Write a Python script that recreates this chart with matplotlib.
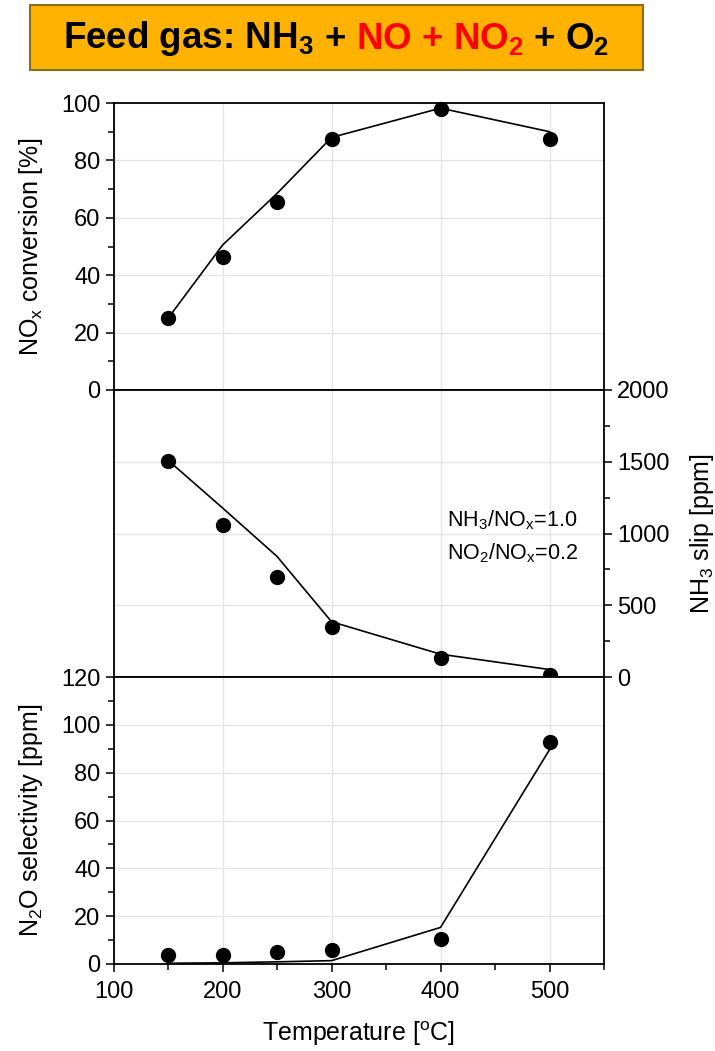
import matplotlib
matplotlib.use("Agg")
import matplotlib.pyplot as plt
from matplotlib.patches import Rectangle
from matplotlib.ticker import MultipleLocator

plt.rcParams['font.family'] = ['Liberation Sans', 'DejaVu Sans']
plt.rcParams['mathtext.fontset'] = 'custom'
plt.rcParams['mathtext.rm'] = 'Liberation Sans'
plt.rcParams['mathtext.bf'] = 'Liberation Sans:bold'
plt.rcParams['mathtext.it'] = 'Liberation Sans:italic'

# measured points
temps = [150, 200, 250, 300, 400, 500]
nox_conv = [25, 46.5, 65.5, 87.5, 98, 87.5]
nh3_slip = [1505, 1057, 700, 350, 130, 12]
n2o_sel = [3.8, 3.6, 5.2, 5.9, 10.3, 93]

# model lines
model_temps = [150, 200, 250, 300, 400, 500]
nox_conv_model = [25, 50.5, 68.5, 88, 98.2, 90]
nh3_slip_model = [1510, 1178, 840, 385, 159, 52]
n2o_sel_model = [0.3, 0.5, 0.9, 1.4, 15.3, 89.6]

W, H = 715, 1051
fig = plt.figure(figsize=(W / 100, H / 100), dpi=100)

left, width = 113.6 / W, (604 - 113.6) / W
tops = [103, 390, 677]
ph = 287
axes = []
for t in tops:
    ax = fig.add_axes([left, 1 - (t + ph) / H, width, ph / H])
    axes.append(ax)
ax1, ax2, ax3 = axes

GRID = '#e3e3e3'
for ax, y, ym in [(ax1, nox_conv, nox_conv_model),
                  (ax2, nh3_slip, nh3_slip_model),
                  (ax3, n2o_sel, n2o_sel_model)]:
    ax.plot(model_temps, ym, color='black', lw=1.2, zorder=3)
    ax.plot(temps, y, 'o', color='black', ms=10, zorder=4, clip_on=False)
    ax.set_xlim(100, 550)
    ax.xaxis.set_major_locator(MultipleLocator(100))
    ax.xaxis.set_minor_locator(MultipleLocator(50))
    ax.grid(True, which='major', color=GRID, lw=0.9, zorder=0)
    for s in ax.spines.values():
        s.set_linewidth(1.3)
    ax.tick_params(which='both', direction='out', width=1.1, labelsize=17)
    ax.tick_params(which='major', length=6)
    ax.tick_params(which='minor', length=4)

# panel 1
ax1.set_ylim(0, 100)
ax1.yaxis.set_major_locator(MultipleLocator(20))
ax1.yaxis.set_minor_locator(MultipleLocator(10))
ax1.tick_params(axis='x', which='both', labelbottom=False)
ax1.tick_params(axis='x', which='minor', length=0)
ax1.set_ylabel(r'NO$_\mathregular{x}$ conversion [%]', fontsize=18)

# panel 2
ax2.set_ylim(0, 2000)
ax2.yaxis.set_major_locator(MultipleLocator(500))
ax2.yaxis.set_minor_locator(MultipleLocator(250))
ax2.yaxis.tick_right()
ax2.yaxis.set_label_position('right')
ax2.tick_params(axis='x', which='both', length=0, labelbottom=False)
ax2.set_ylabel(r'NH$_\mathregular{3}$ slip [ppm]', fontsize=18)
ax2.yaxis.set_label_coords(1.171, 0.5)
ax2.text(0.68, 0.547, r'NH$_\mathregular{3}$/NO$_\mathregular{x}$=1.0',
         transform=ax2.transAxes, fontsize=15.5, va='center')
ax2.text(0.68, 0.432, r'NO$_\mathregular{2}$/NO$_\mathregular{x}$=0.2',
         transform=ax2.transAxes, fontsize=15.5, va='center')

# panel 3
ax3.set_ylim(0, 120)
ax3.yaxis.set_major_locator(MultipleLocator(20))
ax3.yaxis.set_minor_locator(MultipleLocator(10))
ax3.tick_params(axis='x', which='major', pad=6)
ax3.set_ylabel(r'N$_\mathregular{2}$O selectivity [ppm]', fontsize=18)
ax3.set_xlabel(r'Temperature [$^\mathregular{o}$C]', fontsize=18, labelpad=12)

for ax in (ax1, ax3):
    ax.yaxis.set_label_coords(-0.14, 0.5)

# title box
fig.patches.append(Rectangle((30 / W, 1 - 70 / H), 613 / W, 65 / H,
                             transform=fig.transFigure, facecolor='#FFB300',
                             edgecolor='#8a6d1a', lw=1.5, zorder=0))
pieces = [(r'Feed gas: NH$_\mathbf{3}$', 'black'),
          ('+', 'black'),
          (r'NO + NO$_\mathbf{2}$', '#FF0000'),
          ('+', 'black'),
          (r'O$_\mathbf{2}$', 'black')]
renderer = fig.canvas.get_renderer()
tkw = dict(fontsize=26.5, fontweight='bold', va='center', ha='left')
probe1 = fig.text(0, 0, 'a a', **tkw)
probe2 = fig.text(0, 0, 'aa', **tkw)
gap = probe1.get_window_extent(renderer).width - probe2.get_window_extent(renderer).width
probe1.remove()
probe2.remove()
texts = [fig.text(0, 1 - 39 / H, s, color=c, **tkw) for s, c in pieces]
widths = [t.get_window_extent(renderer).width for t in texts]
total = sum(widths) + gap * (len(widths) - 1)
x = 336.5 - total / 2
for t, w in zip(texts, widths):
    t.set_x(x / W)
    x += w + gap

fig.savefig('out.png', dpi=100)
